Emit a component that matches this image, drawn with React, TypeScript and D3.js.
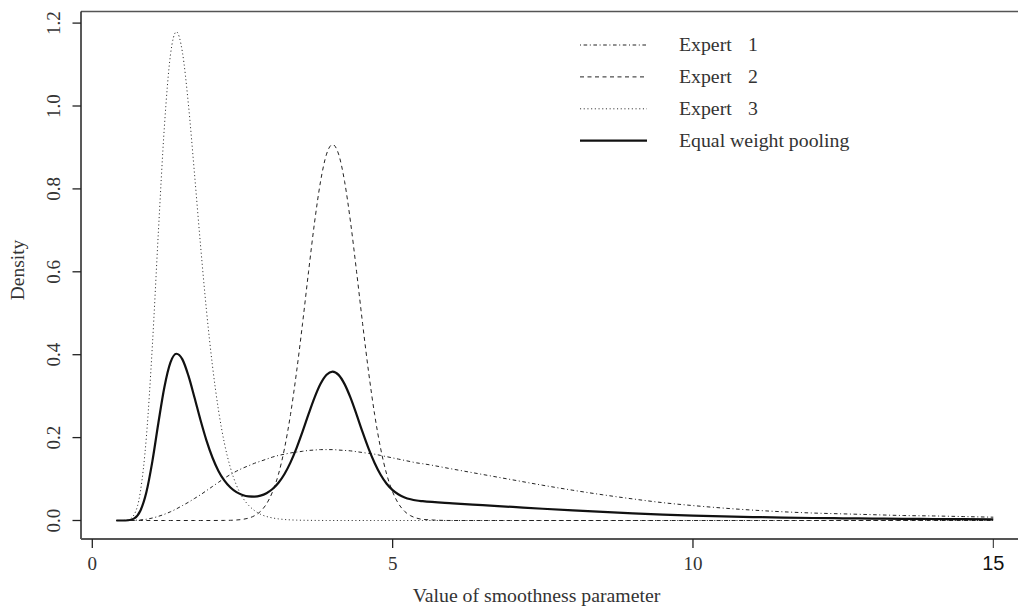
import React from "react";
import * as d3 from "d3";

// Grid of smoothness-parameter values at which the densities are tabulated
const xGrid = [
  0.4, 0.5, 0.6, 0.7, 0.8, 0.9, 1.0, 1.1, 1.2, 1.3, 1.4, 1.5, 1.6, 1.7, 1.8, 1.9,
  2.0, 2.1, 2.2, 2.3, 2.4, 2.5, 2.6, 2.7, 2.8, 2.9, 3.0, 3.1, 3.2, 3.3, 3.4, 3.5,
  3.6, 3.7, 3.8, 3.9, 4.0, 4.1, 4.2, 4.3, 4.4, 4.5, 4.6, 4.7, 4.8, 4.9, 5.0, 5.1,
  5.2, 5.3, 5.4, 5.5, 6.0, 6.5, 7.0, 7.5, 8.0, 8.5, 9.0, 9.5, 10.0, 10.5, 11.0,
  11.5, 12.0, 12.5, 13.0, 13.5, 14.0, 14.5, 15.0,
];

// Expert 1: broad, right-skewed elicited density
const expert1 = [
  0, 0, 0.0002, 0.0006, 0.0015, 0.003, 0.006, 0.01, 0.015, 0.021, 0.028, 0.036, 0.044, 0.053, 0.062, 0.072,
  0.082, 0.092, 0.102, 0.111, 0.119, 0.126, 0.132, 0.138, 0.143, 0.148, 0.153, 0.157, 0.16, 0.163, 0.165, 0.167,
  0.169, 0.17, 0.171, 0.171, 0.171, 0.17, 0.169, 0.168, 0.166, 0.164, 0.162, 0.16, 0.157, 0.154, 0.151, 0.148,
  0.145, 0.142, 0.139, 0.137, 0.124, 0.111, 0.098, 0.085, 0.073, 0.062, 0.052, 0.043, 0.036, 0.03, 0.025,
  0.021, 0.018, 0.016, 0.014, 0.012, 0.011, 0.0095, 0.008,
];

// Expert 2: concentrated around 4
const expert2 = [
  0, 0, 0, 0, 0, 0, 0, 0, 0, 0, 0, 0, 0, 0, 0, 0,
  0, 0.0001, 0.0002, 0.0005, 0.0012, 0.0027, 0.0057, 0.0115, 0.022, 0.04, 0.069, 0.112, 0.174, 0.256, 0.358, 0.475,
  0.6, 0.719, 0.818, 0.884, 0.907, 0.884, 0.818, 0.719, 0.6, 0.475, 0.358, 0.256, 0.174, 0.112, 0.069, 0.04,
  0.022, 0.0115, 0.0057, 0.0027, 0, 0, 0, 0, 0, 0, 0, 0, 0, 0, 0,
  0, 0, 0, 0, 0, 0, 0, 0,
];

// Expert 3: sharp peak around 1.4
const expert3 = [
  0, 0.0001, 0.0018, 0.015, 0.069, 0.201, 0.422, 0.696, 0.95, 1.122, 1.179, 1.13, 1.004, 0.839, 0.667, 0.508,
  0.374, 0.267, 0.186, 0.127, 0.085, 0.056, 0.037, 0.024, 0.015, 0.0097, 0.0062, 0.0039, 0.0024, 0.0015, 0.0009, 0.0006,
  0.0004, 0.0002, 0.0001, 0, 0, 0, 0, 0, 0, 0, 0, 0, 0, 0, 0, 0,
  0, 0, 0, 0, 0, 0, 0, 0, 0, 0, 0, 0, 0, 0, 0,
  0, 0, 0, 0, 0, 0, 0, 0,
];

const xTicks = [0, 5, 10, 15];
const yTicks = [0, 0.2, 0.4, 0.6, 0.8, 1.0, 1.2];

const seriesNames = ["Expert", "Expert", "Expert", "Equal weight pooling"];
const seriesNumbers = ["1", "2", "3", ""];

const W = 1018;
const H = 610;
const serif = "'Liberation Serif', 'Times New Roman', serif";
const sans = "'Liberation Sans', Arial, sans-serif";

export default function App() {
  const x = d3.scaleLinear().domain([0, 15]).range([92.3, 993.3]);
  const y = d3.scaleLinear().domain([0, 1.2]).range([520.5, 23.1]);

  // Equal-weight linear opinion pool: mean of the three expert densities
  const pooled = xGrid.map((_, i) => (expert1[i] + expert2[i] + expert3[i]) / 3);

  const line = d3
    .line<number>()
    .x((_, i) => x(xGrid[i]))
    .y((d) => y(d))
    .curve(d3.curveMonotoneX);

  const styles = [
    { data: expert1, dash: "1 2.6 3.6 2.6", width: 1, color: "#222" },
    { data: expert2, dash: "4 3.5", width: 1, color: "#222" },
    { data: expert3, dash: "1.1 2.6", width: 1, color: "#333" },
    { data: pooled, dash: "none", width: 2.2, color: "#111" },
  ];

  const left = 81;
  const top = 11.5;
  const bottom = 539;
  const fmt = d3.format(".1f");

  const legendX0 = 580;
  const legendX1 = 647;
  const legendText = 679;
  const legendNum = 753;
  const legendY0 = 45;
  const legendStep = 31.9;

  return (
    <svg
      width={W}
      height={H}
      style={{ position: "absolute", left: 0, top: 0, background: "#fff" }}
    >
      {/* plot frame */}
      <line x1={left} x2={W} y1={top} y2={top} stroke="#555" strokeWidth={1.5} />
      <line x1={left} x2={left} y1={top} y2={bottom} stroke="#222" strokeWidth={1.5} />
      <line x1={left} x2={W} y1={bottom} y2={bottom} stroke="#555" strokeWidth={2} />

      {/* x axis */}
      {xTicks.map((t, i) => (
        <g key={"xt" + t}>
          <line x1={x(t)} x2={x(t)} y1={bottom} y2={bottom + 9} stroke="#222" strokeWidth={i === xTicks.length - 1 ? 1 : 1.3} />
          <text
            x={x(t)}
            y={i === xTicks.length - 1 ? 570 : 569.5}
            textAnchor="middle"
            fontFamily={i === xTicks.length - 1 ? sans : serif}
            fontSize={i === xTicks.length - 1 ? 20 : 19}
            fill={i === xTicks.length - 1 ? "#111" : "#333"}
          >
            {t}
          </text>
        </g>
      ))}
      <text x={536.5} y={601.5} textAnchor="middle" fontFamily={serif} fontSize={19.8} fill="#333">
        Value of smoothness parameter
      </text>

      {/* y axis */}
      {yTicks.map((t) => (
        <g key={"yt" + t}>
          <line x1={left - 8.5} x2={left} y1={y(t)} y2={y(t)} stroke="#222" strokeWidth={1.3} />
          <text
            transform={`translate(60,${y(t)}) rotate(-90)`}
            textAnchor="middle"
            fontFamily={serif}
            fontSize={19}
            fill="#333"
          >
            {fmt(t)}
          </text>
        </g>
      ))}
      <text
        transform={`translate(24,270) rotate(-90)`}
        textAnchor="middle"
        fontFamily={serif}
        fontSize={19.5}
        fill="#333"
      >
        Density
      </text>

      {/* density curves */}
      {styles.map((s, i) => (
        <path
          key={"c" + i}
          d={line(s.data) || ""}
          fill="none"
          stroke={s.color}
          strokeWidth={s.width}
          strokeDasharray={s.dash}
          strokeLinejoin="round"
        />
      ))}

      {/* legend */}
      {styles.map((s, i) => {
        const ly = legendY0 + i * legendStep;
        return (
          <g key={"lg" + i}>
            <line
              x1={legendX0}
              x2={legendX1}
              y1={ly}
              y2={ly}
              stroke={s.color}
              strokeWidth={s.width}
              strokeDasharray={s.dash}
            />
            <text x={legendText} y={ly + 6} fontFamily={serif} fontSize={19.8} fill="#333">
              {seriesNames[i]}
            </text>
            {seriesNumbers[i] && (
              <text x={legendNum} y={ly + 6} textAnchor="middle" fontFamily={serif} fontSize={19.8} fill="#333">
                {seriesNumbers[i]}
              </text>
            )}
          </g>
        );
      })}
    </svg>
  );
}
